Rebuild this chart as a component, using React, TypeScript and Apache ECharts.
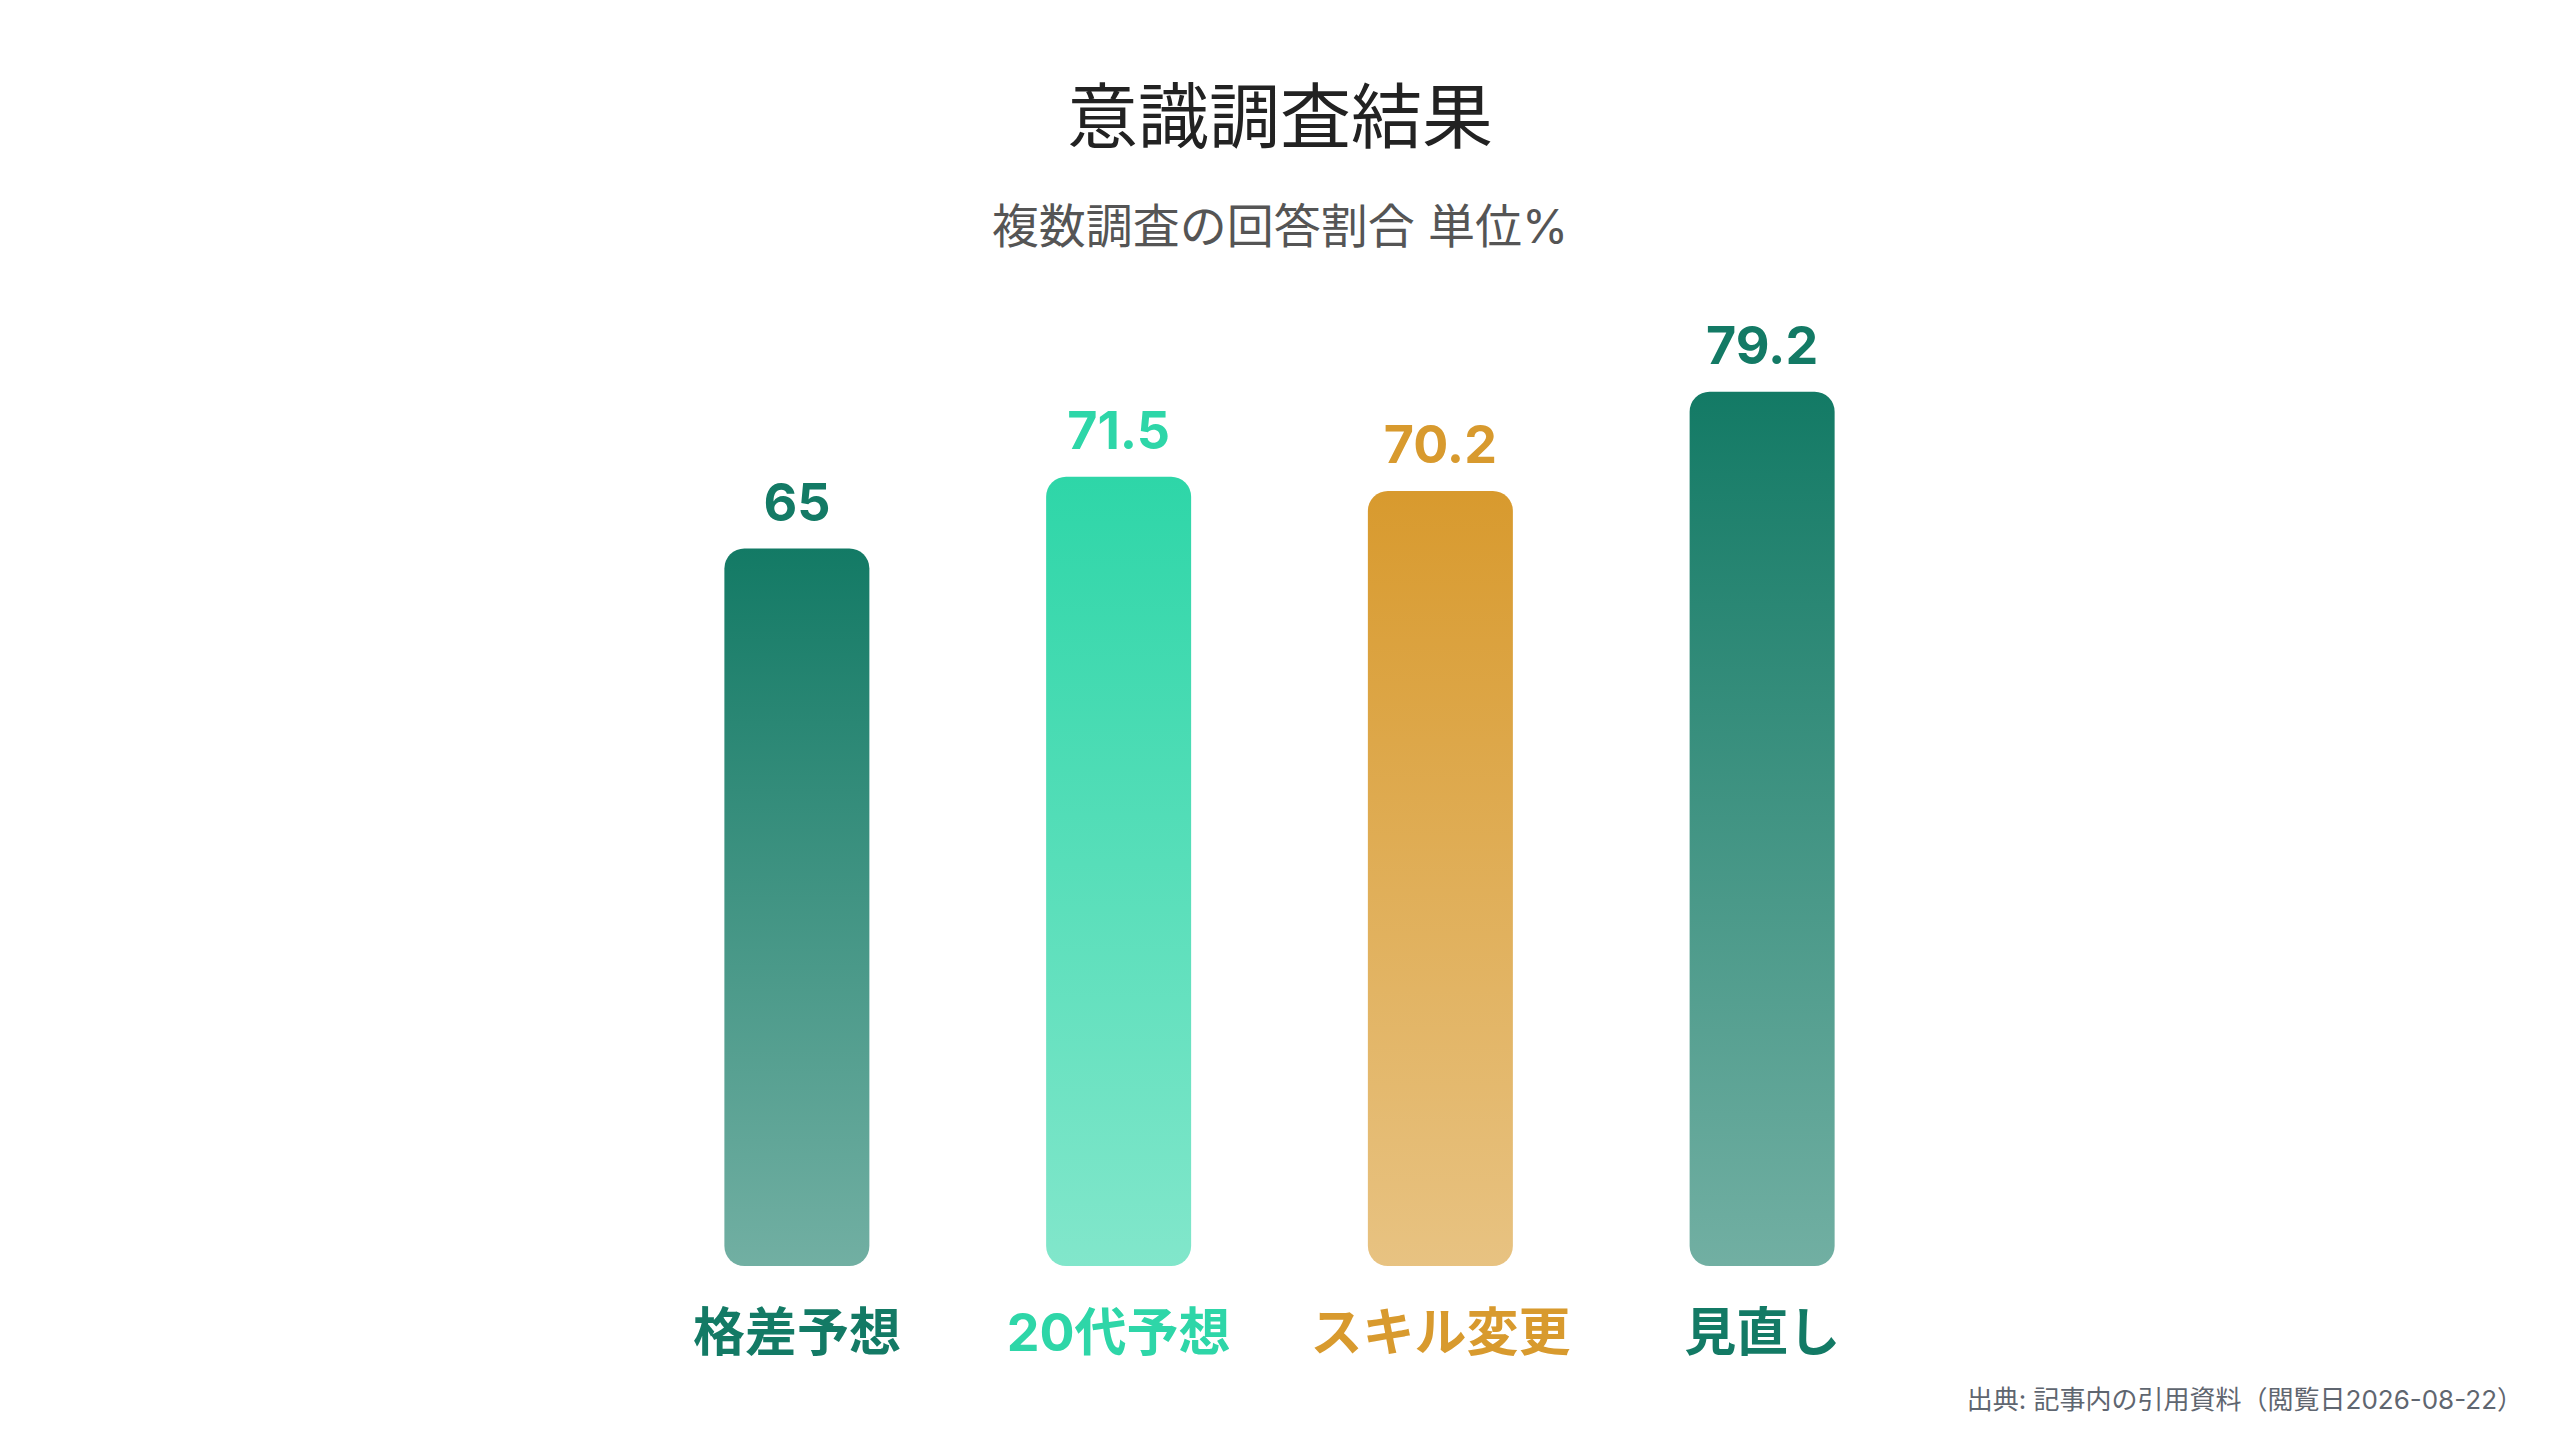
import * as echarts from 'echarts';
import { useEffect, useRef } from 'react';

const categories = ['格差予想', '20代予想', 'スキル変更', '見直し'];
const values = [65, 71.5, 70.2, 79.2];
const colors = ['#137a65', '#2ed6a8', '#d89a2e', '#137a65'];

const fontFamily = "Inter, 'Noto Sans CJK JP', sans-serif";

function fade(hex: string, alpha: number) {
  const r = parseInt(hex.slice(1, 3), 16);
  const g = parseInt(hex.slice(3, 5), 16);
  const b = parseInt(hex.slice(5, 7), 16);
  return `rgba(${r}, ${g}, ${b}, ${alpha})`;
}

function SurveyBarChart() {
  const chartRef = useRef(null);

  useEffect(() => {
    const myChart = echarts.init(chartRef.current, null, { renderer: 'svg' });

    const option = {
      animation: false,
      backgroundColor: '#ffffff',
      title: [
        {
          text: '意識調査結果',
          left: 'center',
          top: 75,
          textStyle: {
            fontFamily,
            fontSize: 71,
            lineHeight: 71,
            fontWeight: 400,
            color: '#222222',
          },
        },
        {
          text: '複数調査の回答割合 単位%',
          left: 'center',
          top: 197,
          textStyle: {
            fontFamily,
            fontSize: 47,
            lineHeight: 47,
            fontWeight: 400,
            color: '#555555',
          },
        },
        {
          text: '出典: 記事内の引用資料（閲覧日2026-08-22）',
          right: 32,
          top: 1381,
          textStyle: {
            fontFamily,
            fontSize: 26,
            lineHeight: 26,
            fontWeight: 400,
            color: '#5f6670',
          },
        },
      ],
      grid: {
        left: 636,
        right: 637,
        top: 162,
        bottom: 174,
      },
      xAxis: {
        type: 'category',
        data: categories.map((c, i) => ({
          value: c,
          textStyle: { color: colors[i] },
        })),
        axisLine: { show: false },
        axisTick: { show: false },
        axisLabel: {
          interval: 0,
          margin: 40,
          fontFamily,
          fontSize: 52,
          fontWeight: 'bold',
        },
      },
      yAxis: {
        type: 'value',
        min: 0,
        max: 100,
        show: false,
        splitLine: { show: false },
      },
      series: [
        {
          type: 'bar',
          barWidth: 145,
          data: values.map((v, i) => ({
            value: v,
            itemStyle: {
              borderRadius: 20,
              color: new echarts.graphic.LinearGradient(0, 0, 0, 1, [
                { offset: 0, color: colors[i] },
                { offset: 1, color: fade(colors[i], 0.6) },
              ]),
            },
            label: {
              show: true,
              position: 'top',
              distance: 20,
              fontFamily,
              fontSize: 52,
              fontWeight: 'bold',
              color: colors[i],
            },
          })),
        },
      ],
    };

    myChart.setOption(option);

    return () => {
      myChart.dispose();
    };
  }, []);

  return (
    <div
      ref={chartRef}
      style={{ position: 'absolute', left: 0, top: 0, width: '2560px', height: '1440px' }}
    ></div>
  );
}

export default function App() {
  return <SurveyBarChart />;
}
